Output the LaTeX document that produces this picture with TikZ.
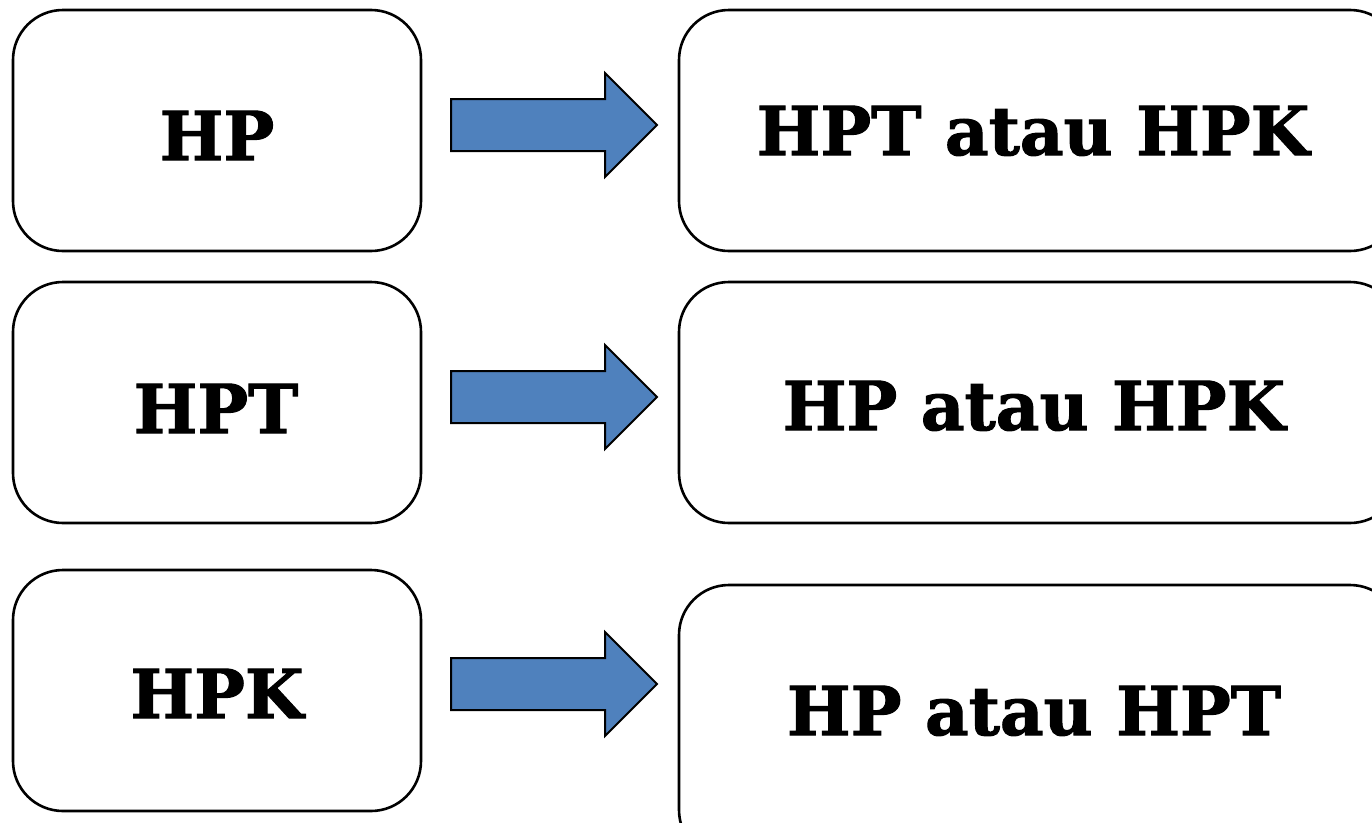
\documentclass[tikz,border=0pt]{standalone}
\usepackage{fontspec}
\setmainfont{DejaVu Serif}[BoldFeatures={FakeBold=1.5}]
\definecolor{arrowfill}{HTML}{4F81BD}
\begin{document}
\begin{tikzpicture}[x=1pt,y=-1pt,
  box/.style={draw=black,line width=2.6pt,rounded corners=50pt},
  lbl/.style={font=\fontsize{67.5}{72}\selectfont\bfseries,anchor=base,inner sep=0pt},
  blockarrow/.style={fill=arrowfill,draw=black,line width=2pt,line join=miter}]
\useasboundingbox (0,0) rectangle (1372,822);
% boxes
\draw[box] (13,10) rectangle (421,251);
\draw[box] (13,282) rectangle (421,523);
\draw[box] (13,570) rectangle (421,811);
\draw[box] (679,10) rectangle (1400,251);
\draw[box] (679,282) rectangle (1400,523);
\draw[box] (679,585) rectangle (1400,860);
% arrows
\foreach \c in {125,397,684}{
  \draw[blockarrow] (451,\c-26) -- (605,\c-26) -- (605,\c-52) -- (657,\c) -- (605,\c+52) -- (605,\c+26) -- (451,\c+26) -- cycle;
}
% labels
\node[lbl] (l1) at (217,160) {HP};
\node[lbl] (l2) at (216,433) {HPT};
\node[lbl] (l3) at (217,718) {HPK};
\node[lbl] (r1) at (1033,155) {HPT atau HPK};
\node[lbl] (r2) at (1034,430) {HP atau HPK};
\node[lbl] (r3) at (1034,735) {HP atau HPT};
\end{tikzpicture}
\end{document}
